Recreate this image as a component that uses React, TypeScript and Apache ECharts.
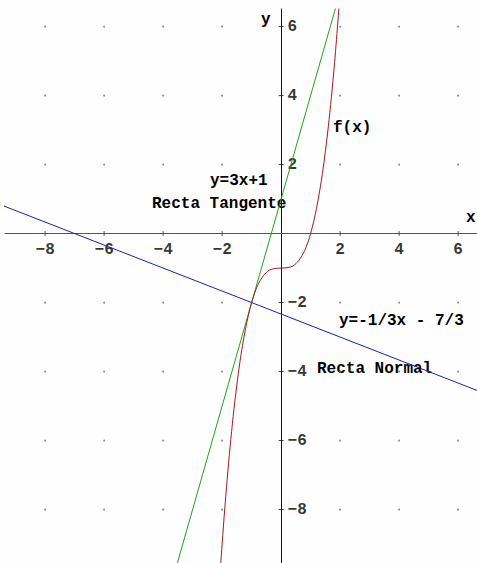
import React, { useEffect, useRef } from "react";
import * as echarts from "echarts";

const xTicks = [-8, -6, -4, -2, 2, 4, 6];
const yTicks = [-8, -6, -4, -2, 2, 4, 6];

// f(x)
const curveX = [-2.2, -2.0, -1.8, -1.6, -1.4, -1.2, -1.0, -0.8, -0.6, -0.4, -0.2, 0, 0.2, 0.4, 0.6, 0.8, 1.0, 1.2, 1.4, 1.6, 1.8, 2.0];
const curveY = [-11.65, -9.0, -6.83, -5.1, -3.74, -2.73, -2.0, -1.51, -1.22, -1.06, -1.01, -1.0, -0.99, -0.94, -0.78, -0.49, 0.0, 0.73, 1.74, 3.1, 4.83, 7.0];

// Recta tangente y=3x+1 (endpoints)
const tangentX = [-3.6, 1.9];
const tangentY = [-9.8, 6.7];

// Recta normal y=-1/3x - 7/3 (endpoints)
const normalX = [-9.4, 6.7];
const normalY = [0.8, -4.567];

const X_MIN = -9.36;
const X_MAX = 6.64;
const Y_MIN = -9.55;
const Y_MAX = 6.51;

const FONT = "'Liberation Mono', 'DejaVu Sans Mono', monospace";
const fmt = (v: number) => String(v).replace("-", "\u2212");

export default function App() {
  const ref = useRef<HTMLDivElement>(null);
  useEffect(() => {
    if (!ref.current) return;
    const chart = echarts.init(ref.current, undefined, { renderer: "svg" });
    const dots: number[][] = [];
    for (const x of xTicks) for (const y of yTicks) dots.push([x, y]);
    const zip = (xs: number[], ys: number[]) => xs.map((x, i) => [x, ys[i]]);
    const labelStyle = {
      color: "#000",
      fontFamily: FONT,
      fontWeight: "bold",
      fontSize: 16,
    };
    chart.setOption({
      animation: false,
      backgroundColor: "#fefefe",
      grid: { left: 5, right: 0, top: 9, bottom: 0, containLabel: false },
      xAxis: {
        type: "value",
        min: X_MIN,
        max: X_MAX,
        axisLine: { onZero: true, lineStyle: { color: "#555", width: 1 } },
        axisTick: { show: false },
        axisLabel: { show: false },
        splitLine: { show: false },
      },
      yAxis: {
        type: "value",
        min: Y_MIN,
        max: Y_MAX,
        axisLine: { onZero: true, lineStyle: { color: "#111", width: 1 } },
        axisTick: { show: false },
        axisLabel: { show: false },
        splitLine: { show: false },
      },
      series: [
        {
          type: "scatter",
          data: dots,
          symbolSize: 2,
          itemStyle: { color: "#777" },
          silent: true,
        },
        {
          type: "scatter",
          data: xTicks.map((t) => [t, 0]),
          symbol: "rect",
          symbolSize: [1, 5],
          itemStyle: { color: "#333" },
          silent: true,
          label: {
            show: true,
            position: "bottom",
            distance: 6,
            formatter: (p: any) => fmt(p.value[0]),
            ...labelStyle,
          },
        },
        {
          type: "scatter",
          data: yTicks.map((t) => [0, t]),
          symbol: "rect",
          symbolSize: [5, 1],
          itemStyle: { color: "#111" },
          silent: true,
          label: {
            show: true,
            position: "right",
            distance: 4,
            formatter: (p: any) => fmt(p.value[1]),
            ...labelStyle,
          },
        },
        {
          type: "line",
          data: zip(normalX, normalY),
          showSymbol: false,
          lineStyle: { color: "#2020a8", width: 1 },
        },
        {
          type: "line",
          data: zip(tangentX, tangentY),
          showSymbol: false,
          lineStyle: { color: "#22a022", width: 1 },
        },
        {
          type: "line",
          data: zip(curveX, curveY),
          smooth: 0.3,
          showSymbol: false,
          lineStyle: { color: "#a01c1c", width: 1 },
        },
      ],
      graphic: [
        { type: "text", left: 261, top: 12, style: { text: "y", font: `bold 16px ${FONT}`, fill: "#000" } },
        { type: "text", left: 466, top: 210, style: { text: "x", font: `bold 16px ${FONT}`, fill: "#000" } },
        { type: "text", left: 333, top: 120, style: { text: "f(x)", font: `bold 16px ${FONT}`, fill: "#000" } },
        { type: "text", left: 210, top: 173, style: { text: "y=3x+1", font: `bold 16px ${FONT}`, fill: "#000" } },
        { type: "text", left: 152, top: 196, style: { text: "Recta Tangente", font: `bold 16px ${FONT}`, fill: "#000" } },
        { type: "text", left: 339, top: 313, style: { text: "y=-1/3x - 7/3", font: `bold 16px ${FONT}`, fill: "#000" } },
        { type: "text", left: 317, top: 361, style: { text: "Recta Normal", font: `bold 16px ${FONT}`, fill: "#000" } },
      ],
    });
    return () => chart.dispose();
  }, []);
  return (
    <div
      ref={ref}
      style={{ position: "absolute", left: 0, top: 0, width: 477, height: 563 }}
    />
  );
}
